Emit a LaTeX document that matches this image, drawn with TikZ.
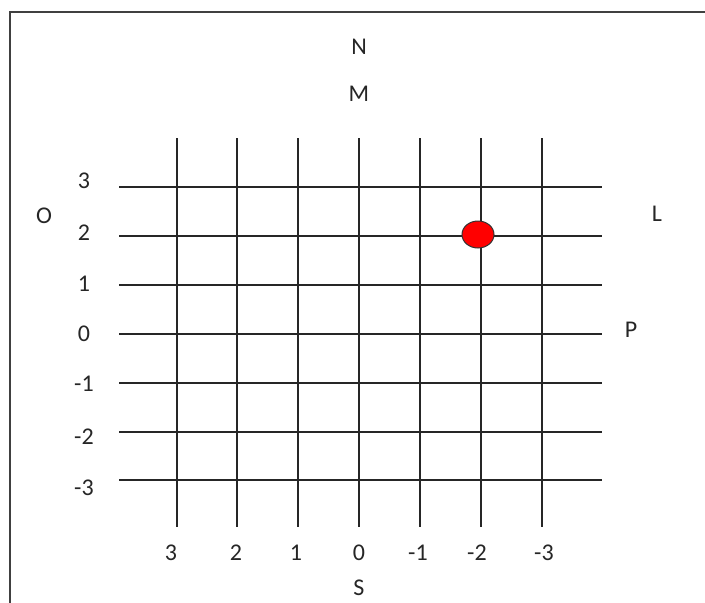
\documentclass[tikz,border=0pt]{standalone}
\usepackage{fontspec}
\setmainfont{Carlito}
\usetikzlibrary{shapes.geometric}
\begin{document}
\begin{tikzpicture}[x=1pt,y=-1pt,
  gridline/.style={line width=2.4pt,black!85},
  framel/.style={line width=2pt,black!75},
  lbl/.style={font=\fontsize{24}{24}\selectfont,text=black!85,inner sep=0pt},
  dot/.style={ellipse,draw=black!80,line width=1pt,fill=red,minimum width=32pt,minimum height=27pt,inner sep=0pt}]
\useasboundingbox (0,0) rectangle (705,603);
\coordinate (fr1) at (10,603);
\coordinate (fr2) at (10,12);
\coordinate (fr3) at (705,12);
\draw[framel] (fr1) -- (fr2) -- (fr3);
% vertical lines
\foreach \i/\x in {1/177,2/237,3/298,4/359,5/420,6/481,7/542}{
  \coordinate (vt\i) at (\x,138);
  \coordinate (vb\i) at (\x,527);
  \draw[gridline] (vt\i) -- (vb\i);
}
% horizontal lines
\foreach \i/\y in {1/187,2/236,3/285,4/334,5/383,6/432,7/480}{
  \coordinate (hl\i) at (119,\y);
  \coordinate (hr\i) at (602,\y);
  \draw[gridline] (hl\i) -- (hr\i);
}
% row labels
\foreach \i/\y/\t in {1/181/3,2/233/2,3/284/1,4/334/0,5/384/-1,6/437/-2,7/488/-3}{
  \node[lbl] (r\i) at (84,\y) {\t};
}
% column labels
\foreach \i/\x/\t in {1/171/3,2/236/2,3/296/1,4/359/0,5/418/-1,6/477/-2,7/544/-3}{
  \node[lbl] (c\i) at (\x,553) {\t};
}
\node[lbl] (N) at (359,47) {N};
\node[lbl] (M) at (359,94) {M};
\node[lbl] (O) at (44,216) {O};
\node[lbl] (L) at (657,214) {L};
\node[lbl] (P) at (631,330) {P};
\node[lbl] (S) at (359,588) {S};
\node[dot] (d) at (478,234.5) {};
\end{tikzpicture}
\end{document}
